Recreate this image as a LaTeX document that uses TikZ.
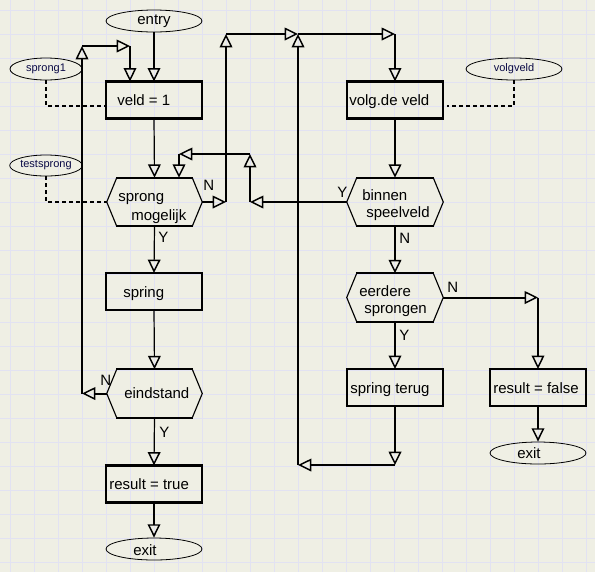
\documentclass[tikz,border=0pt]{standalone}
\usepackage{fontspec}
\setmainfont{Liberation Sans}
\usetikzlibrary{arrows.meta,shapes.geometric}
\definecolor{bg}{RGB}{239,239,228}
\definecolor{gridc}{RGB}{226,226,242}
\definecolor{lab}{RGB}{10,10,70}
\newcommand\hexdraw[1]{%
  \draw[thinline] ([xshift=7.5pt]#1.north west) -- (#1.west) -- ([xshift=7.5pt]#1.south west);
  \draw[thinline] ([xshift=-7.5pt]#1.north east) -- (#1.east) -- ([xshift=-7.5pt]#1.south east);
  \draw[thickline] ([xshift=7pt]#1.north west) -- ([xshift=-7pt]#1.north east);
  \draw[thickline] ([xshift=7pt]#1.south west) -- ([xshift=-7pt]#1.south east);}
\newcommand\boxedges[1]{%
  \draw[thickline] ([xshift=-0.4pt]#1.north west) -- ([xshift=0.4pt]#1.north east);
  \draw[thickline] ([xshift=-0.4pt]#1.south west) -- ([xshift=0.4pt]#1.south east);}
\begin{document}
\begin{tikzpicture}[x=0.75pt,y=-0.75pt,
  box/.style={draw, line width=0.85pt, rectangle, inner sep=0pt, minimum width=72pt, minimum height=27pt},
  hexbox/.style={rectangle, inner sep=0pt, minimum width=71.25pt, minimum height=36pt},
  thinline/.style={line width=0.85pt},
  thickline/.style={line width=1.5pt},
  oval/.style={draw, ellipse, line width=0.6pt, inner sep=0pt, minimum width=72pt, minimum height=16.5pt, font=\fontsize{11.25pt}{13pt}\selectfont},
  soval/.style={draw, ellipse, line width=0.6pt, inner sep=0pt, minimum width=54pt, minimum height=16.5pt, font=\fontsize{8.25pt}{10pt}\selectfont, text=lab},
  txt/.style={inner sep=0pt, anchor=base west, font=\fontsize{11.25pt}{13pt}\selectfont},
  arr/.style={-{Triangle[open,length=10pt,width=9.5pt,line width=1.1pt]}},
  hw/.style={arr, line width=1.5pt},
  vw/.style={arr, line width=0.9pt},
  dline/.style={line width=1.1pt, dash pattern=on 3pt off 2.25pt}
]
\fill[bg] (0,0) rectangle (595,572);
\useasboundingbox (0,0) rectangle (595,572);
\foreach \i in {0,...,24} \draw[gridc, line width=0.75pt] (10+24*\i,0) -- (10+24*\i,572);
\foreach \j in {0,...,23} \draw[gridc, line width=0.75pt] (0,10+24*\j) -- (595,10+24*\j);

% ovals
\node[oval] (entry) at (154,21) {entry};
\node[soval] (sprong1) at (46,69) {sprong1};
\node[soval, minimum height=15.75pt] (testsprong) at (46,165.5) {testsprong};
\node[soval, minimum width=72pt] (volgveld) at (514,69) {volgveld};
\node[oval] (exit1) at (154,549) {};
\node[oval] (exit2) at (538,453) {};

% boxes
\node[box] (veld) at (154,100) {};
\node[box] (volg) at (395,100) {};
\node[box] (spring) at (154,291.5) {};
\node[box] (rt) at (154,484) {};
\node[box] (terug) at (395,387.5) {};
\node[box] (rf) at (538,387.5) {};
\boxedges{veld}
\boxedges{volg}
\boxedges{spring}
\boxedges{rt}
\boxedges{terug}
\boxedges{rf}

% hexagons
\node[hexbox] (spm) at (154.5,202) {};
\node[hexbox] (eind) at (154.5,393.5) {};
\node[hexbox, minimum width=72pt] (binnen) at (395,202) {};
\node[hexbox, minimum width=72pt] (eerdere) at (395,297.5) {};
\hexdraw{spm}
\hexdraw{eind}
\hexdraw{binnen}
\hexdraw{eerdere}

% texts
\node[txt] (tveld) at (117,105.5) {veld = 1};
\node[txt] (tvolg) at (349,105.5) {volg.de veld};
\node[txt] (tspring) at (123,297) {spring};
\node[txt] (trt) at (109,489) {result = true};
\node[txt] (tterug) at (350,393) {spring terug};
\node[txt] (trf) at (493,393) {result = false};
\node[txt] (tspm1) at (118,201.5) {sprong};
\node[txt] (tspm2) at (131,220.5) {mogelijk};
\node[txt] (tbin1) at (362,200) {binnen};
\node[txt] (tbin2) at (366,217) {speelveld};
\node[txt] (teer1) at (359,296) {eerdere};
\node[txt] (teer2) at (364,313) {sprongen};
\node[txt] (teind) at (124,398) {eindstand};
\node[txt] (texit1) at (133,555) {exit};
\node[txt] (texit2) at (517,458) {exit};
\node[txt] (lN1) at (203,190) {N};
\node[txt] (lY1) at (158,242) {Y};
\node[txt] (lY2) at (337,197) {Y};
\node[txt] (lN2) at (399,243) {N};
\node[txt] (lN3) at (447,292) {N};
\node[txt] (lY3) at (399,340) {Y};
\node[txt] (lN4) at (100,385) {N};
\node[txt] (lY4) at (159,437) {Y};

% coordinates
\coordinate (c2) at (82,46);
\coordinate (c3) at (130,46);
\coordinate (c4) at (226,34);
\coordinate (c6) at (298,34);
\coordinate (c7) at (395,34);
\coordinate (c8) at (250,154);
\coordinate (c10) at (179,154);
\coordinate (c11) at (538,297.5);
\coordinate (c12) at (395,465);
\coordinate (c13) at (298,465);
\coordinate (d1) at (46,106);
\coordinate (d2) at (46,202);
\coordinate (d3) at (514,106);
\coordinate (d4) at (447,106);

% dashed links
\draw[dline] (sprong1.south) -- (d1) -- (d1 -| veld.west);
\draw[dline] (testsprong.south) -- (d2) -- (spm.west);
\draw[dline] (volgveld.south) -- (d3) -- (d4);

% left column
\draw[vw] (entry.south) -- (veld.north);
\draw[vw] (veld.south) -- (spm.north);
\draw[vw] (spm.south) -- (spring.north);
\draw[vw] (spring.south) -- (eind.north);
\draw[vw] (eind.south) -- (rt.north);
\draw[vw] (rt.south) -- (exit1.north);

% loop back from eindstand
\draw[hw] (eind.west) -- (eind.west -| c2);
\draw[vw] (eind.west -| c2) -- (c2);
\draw[hw] (c2) -- (c3);
\draw[vw] (c3) -- (c3 |- veld.north);

% sprong mogelijk N
\draw[hw] (spm.east) -- (spm.east -| c4);
\draw[vw] (spm.east -| c4) -- (c4);
\draw[hw] (c4) -- (c6);
\draw[hw] (c6) -- (c7);
\draw[vw] (c7) -- (volg.north);

% right column
\draw[vw] (volg.south) -- (binnen.north);
\draw[vw] (binnen.south) -- (eerdere.north);
\draw[vw] (eerdere.south) -- (terug.north);

% binnen speelveld Y
\draw[hw] (binnen.west) -- (binnen.west -| c8);
\draw[vw] (binnen.west -| c8) -- (c8);
\draw[hw] (c8) -- (c10);
\draw[vw] (c10) -- (c10 |- spm.north);

% eerdere sprongen N
\draw[hw] (eerdere.east) -- (c11);
\draw[vw] (c11) -- (rf.north);
\draw[vw] (rf.south) -- (exit2.north);

% spring terug back
\draw[vw] (terug.south) -- (c12);
\draw[hw] (c12) -- (c13);
\draw[vw] (c13) -- (c6);
\end{tikzpicture}
\end{document}
